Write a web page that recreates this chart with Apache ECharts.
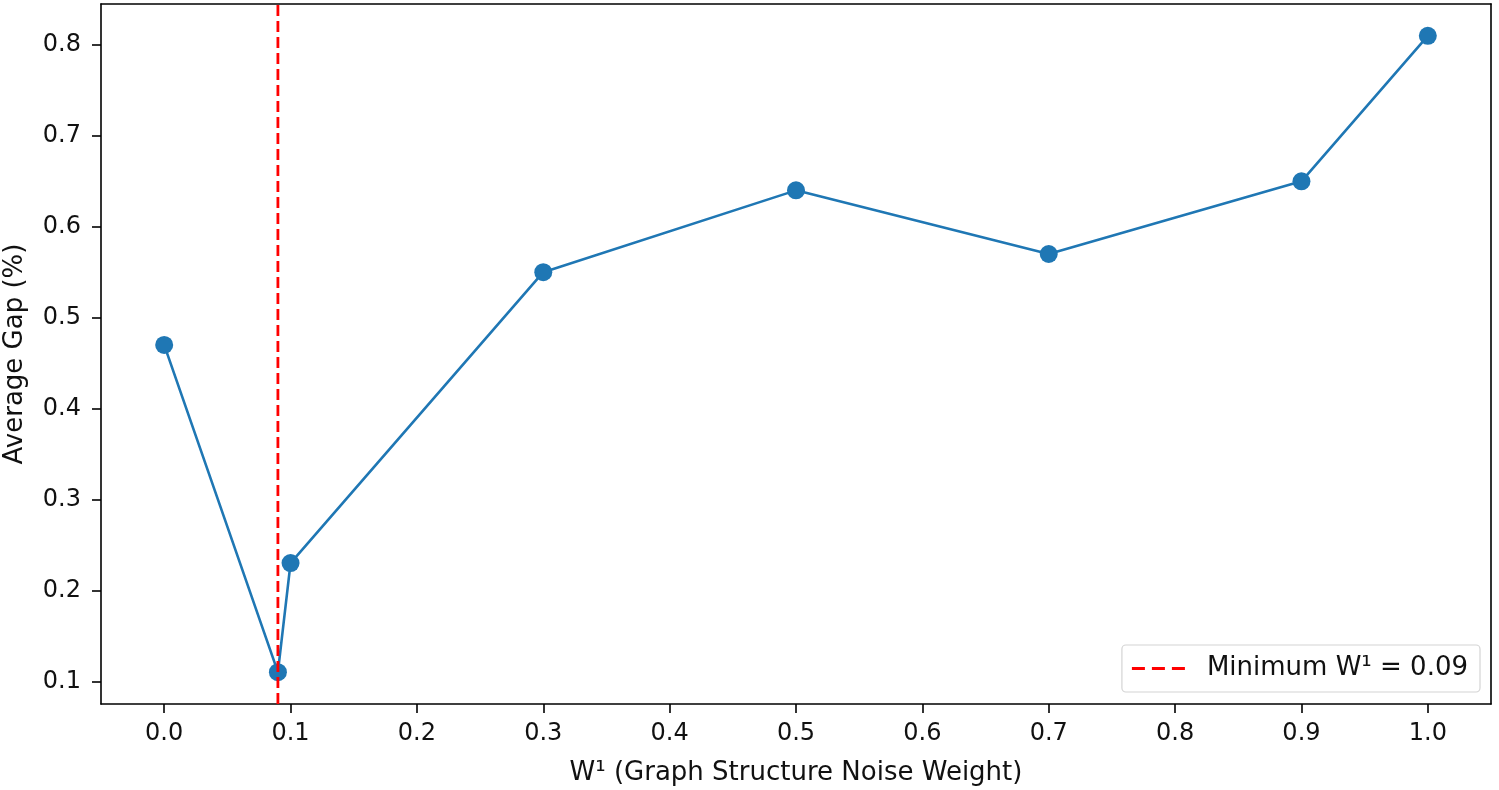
<!DOCTYPE html>
<html><head><meta charset="utf-8">
<script src="https://cdn.jsdelivr.net/npm/echarts@6/dist/echarts.min.js"></script>
<style>html,body{margin:0;padding:0;background:#fff}#c{width:1499px;height:790px}</style>
</head><body><div id="c"></div>
<script>
const xValues = [0.0, 0.09, 0.1, 0.3, 0.5, 0.7, 0.9, 1.0];
const gapValues = [0.47, 0.11, 0.23, 0.55, 0.64, 0.57, 0.65, 0.81];
const minW = 0.09;
const xTicks = [0.0, 0.1, 0.2, 0.3, 0.4, 0.5, 0.6, 0.7, 0.8, 0.9, 1.0];
const yTicks = [0.1, 0.2, 0.3, 0.4, 0.5, 0.6, 0.7, 0.8];
const legendLabel = 'Minimum W\u00b9 = 0.09';

const font = 'DejaVu Sans';
const chart = echarts.init(document.getElementById('c'), null, {renderer: 'canvas'});
const xMin = -0.05, xMax = 1.05, yMin = 0.075, yMax = 0.845;
const frameAxis = {show: true, onZero: false, lineStyle: {color: '#000', width: 1.6}};
const tickStyle = {color: '#000', width: 1.6};
chart.setOption({
  animation: false,
  textStyle: {fontFamily: font},
  grid: {left: 101, top: 4, right: 8, bottom: 86, containLabel: false, outerBoundsMode: 'none'},
  legend: {
    right: 19, bottom: 98,
    data: [{name: legendLabel, icon: 'path://M0,0h13v3h-13z M20,0h13v3h-13z M40,0h13v3h-13z'}],
    itemWidth: 53, itemHeight: 3,
    padding: [10, 12, 10, 10],
    borderColor: '#d4d4d4', borderWidth: 1.2, borderRadius: 4,
    backgroundColor: 'rgba(255,255,255,0.8)',
    textStyle: {fontFamily: font, fontSize: 26, color: '#111', lineHeight: 27, padding: [0, 0, 0, 17]}
  },
  xAxis: [{
    type: 'value', min: xMin, max: xMax,
    axisLine: frameAxis, splitLine: {show: false},
    axisTick: {show: true, inside: false, length: 9, lineStyle: tickStyle, customValues: xTicks},
    axisLabel: {fontSize: 24, color: '#111', margin: 18, customValues: xTicks, formatter: v => v.toFixed(1)},
    name: 'W\u00b9 (Graph Structure Noise Weight)', nameLocation: 'middle', nameGap: 56,
    nameTextStyle: {fontSize: 26, color: '#111', fontFamily: font}
  }, {
    type: 'value', position: 'top', min: xMin, max: xMax,
    axisLine: frameAxis, axisTick: {show: false}, axisLabel: {show: false}, splitLine: {show: false}
  }],
  yAxis: [{
    type: 'value', min: yMin, max: yMax,
    axisLine: frameAxis, splitLine: {show: false},
    axisTick: {show: true, length: 9, lineStyle: tickStyle, customValues: yTicks},
    axisLabel: {fontSize: 24, color: '#111', margin: 20, customValues: yTicks, formatter: v => v.toFixed(1)},
    name: 'Average Gap (%)', nameLocation: 'middle', nameGap: 73, nameRotate: 90,
    nameTextStyle: {fontSize: 26, color: '#111', fontFamily: font}
  }, {
    type: 'value', position: 'right', min: yMin, max: yMax,
    axisLine: frameAxis, axisTick: {show: false}, axisLabel: {show: false}, splitLine: {show: false}
  }],
  series: [{
    type: 'line', name: 'gap',
    data: xValues.map((x, i) => [x, gapValues[i]]),
    symbol: 'circle', symbolSize: 18, showSymbol: true,
    lineStyle: {color: '#1f77b4', width: 2.6},
    itemStyle: {color: '#1f77b4'},
    z: 3
  }, {
    type: 'line', name: legendLabel,
    data: [[minW, yMin], [minW, yMax]],
    symbol: 'none', showSymbol: false,
    lineStyle: {color: '#ff0000', width: 2.8, type: [11, 5]},
    itemStyle: {color: '#ff0000'},
    z: 4
  }]
});
</script></body></html>
